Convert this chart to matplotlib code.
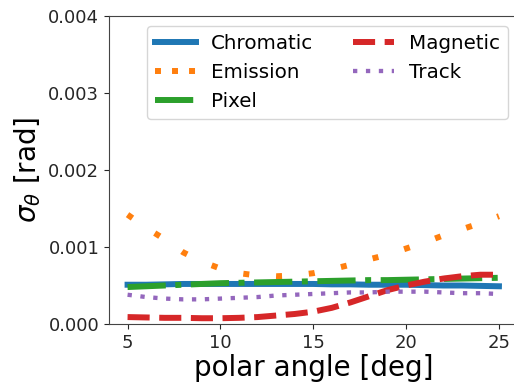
import matplotlib
matplotlib.use("Agg")
import matplotlib.pyplot as plt
import numpy as np

# polar angle [deg]
angle = np.arange(5, 26)

# resolution contributions, in units of 1e-3 rad
chromatic = [0.51, 0.51, 0.515, 0.52, 0.52, 0.52, 0.52, 0.52, 0.52, 0.52, 0.52,
             0.515, 0.515, 0.51, 0.51, 0.51, 0.505, 0.50, 0.50, 0.495, 0.49]
emission = [1.42, 1.25, 1.10, 0.93, 0.81, 0.72, 0.66, 0.63, 0.62, 0.63, 0.66,
            0.71, 0.77, 0.84, 0.90, 0.98, 1.06, 1.15, 1.23, 1.31, 1.40]
pixel = [0.48, 0.49, 0.50, 0.51, 0.52, 0.53, 0.535, 0.54, 0.545, 0.55, 0.555,
         0.56, 0.565, 0.57, 0.57, 0.575, 0.58, 0.585, 0.59, 0.595, 0.60]
magnetic = [0.09, 0.085, 0.08, 0.08, 0.075, 0.075, 0.08, 0.09, 0.11, 0.13, 0.16,
            0.21, 0.28, 0.36, 0.44, 0.50, 0.55, 0.59, 0.62, 0.64, 0.64]
track = [0.38, 0.35, 0.33, 0.32, 0.32, 0.33, 0.34, 0.35, 0.37, 0.38, 0.39,
         0.40, 0.41, 0.41, 0.42, 0.42, 0.42, 0.41, 0.40, 0.40, 0.39]

scale = 1e-3

fig = plt.figure(figsize=(5.14, 3.84), dpi=100)
ax = fig.add_axes([109/514, 1 - 324/384, 408.5/514, 308/384])

ax.plot(angle, np.array(chromatic)*scale, color="#1f77b4", lw=4.3, label="Chromatic")
l_em, = ax.plot(angle, np.array(emission)*scale, color="#ff7f0e", lw=4.3,
                linestyle=":", label="Emission")
l_em.set_dashes((1, 4.5))
ax.plot(angle, np.array(pixel)*scale, color="#2ca02c", lw=4.3, linestyle="-.", label="Pixel")
ax.plot(angle, np.array(magnetic)*scale, color="#d62728", lw=4.3, linestyle="--", label="Magnetic")
l_tr, = ax.plot(angle, np.array(track)*scale, color="#9467bd", lw=3.1,
                linestyle=":", label="Track")
l_tr.set_dashes((1, 2))

ax.set_xlim(4, 26)
ax.set_ylim(0, 0.004)
ax.set_xticks([5, 10, 15, 20, 25])
ax.set_yticks([0, 0.001, 0.002, 0.003, 0.004])
ax.set_yticklabels(["0.000", "0.001", "0.002", "0.003", "0.004"])
ax.tick_params(labelsize=13, colors="#262626")
for s in ax.spines.values():
    s.set_color("#444444")

ax.set_xlabel("polar angle [deg]", fontsize=20, labelpad=2)
ax.set_ylabel(r"$\sigma_\theta$ [rad]", fontsize=20)

leg = ax.legend(ncol=2, fontsize=14.3, loc="upper right", handlelength=2.05,
                handletextpad=0.75, labelspacing=0.5)
leg.get_lines()[1].set_dashes((1, 1.85))

fig.savefig("out.png", dpi=100)
